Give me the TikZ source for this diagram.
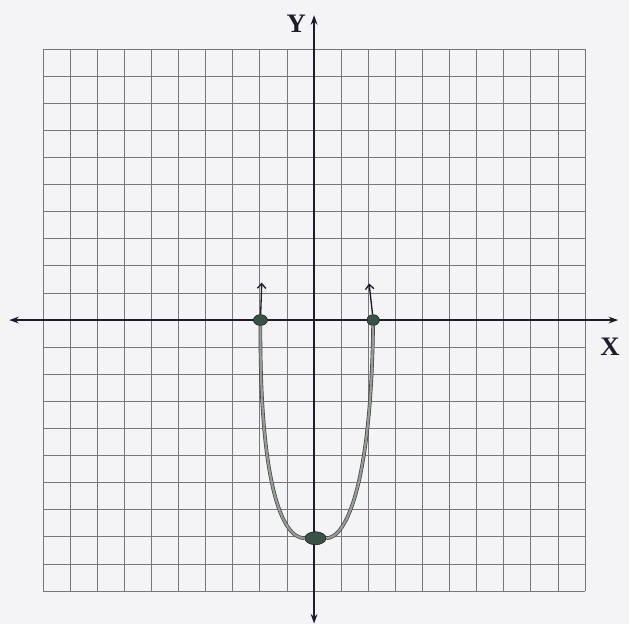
\documentclass[tikz,border=0pt]{standalone}
\usepackage{fontspec}
\setmainfont{Liberation Serif}
\usepackage{tikz}
\usetikzlibrary{arrows.meta,positioning,calc,shapes.geometric}
\definecolor{paper}{RGB}{244,244,247}
\definecolor{gridgray}{RGB}{118,118,124}
\definecolor{axisink}{RGB}{28,28,44}
\definecolor{dotgreen}{RGB}{58,82,70}
\definecolor{pencil}{RGB}{150,155,152}

\begin{document}
\begin{tikzpicture}[
  gridline/.style={draw=gridgray, line width=0.9pt},
  axis/.style={draw=axisink, line width=2.6pt,
    {Stealth[length=10pt,width=7pt]}-{Stealth[length=10pt,width=7pt]}},
  dot/.style={ellipse, fill=dotgreen, draw=axisink, line width=0.6pt,
    minimum width=0.52cm, minimum height=0.4cm, inner sep=0pt},
  curve/.style={draw=black!75, line width=0.7pt, double=pencil,
    double distance=2.4pt},
  tip/.style={draw=axisink, line width=1.4pt,
    -{Straight Barb[length=5pt,width=9pt]}},
  lbl/.style={font=\fontsize{28}{30}\selectfont\bfseries, text=axisink}
]
% paper
\fill[paper] (-11.59,-11.22) rectangle (11.62,11.81);
\useasboundingbox (-11.59,-11.22) rectangle (11.62,11.81);

% grid
\draw[gridline] (-10,-10) grid (10,10);

% axes
\coordinate (xl) at (-11.25,0);
\coordinate (xr) at (11.22,0);
\coordinate (yt) at (0,11.25);
\coordinate (yb) at (0,-11.2);
\draw[axis] (xl) -- (xr);
\draw[axis] (yb) -- (yt);
\node[lbl] (ylab) at (-0.66,10.95) {Y};
\node[lbl] (xlab) at (10.92,-1.0) {X};

% points of the graph
\node[dot] (lroot) at (-1.98,0) {};
\node[dot, minimum width=0.46cm] (rroot) at (2.18,0) {};
\node[dot, minimum width=0.78cm, minimum height=0.48cm] (vertex) at (0.05,-8.05) {};
\coordinate (ltip) at (-1.93,1.38);
\coordinate (rtip) at (2.03,1.35);

% the curve
\draw[tip] (lroot) -- (ltip);
\draw[tip] (rroot) -- (rtip);
\draw[curve] (lroot) .. controls (-2.0,-6.0) and (-1.2,-8.05) .. (vertex);
\draw[curve] (vertex) .. controls (1.2,-8.05) and (2.1,-6.0) .. (rroot);
\end{tikzpicture}
\end{document}
